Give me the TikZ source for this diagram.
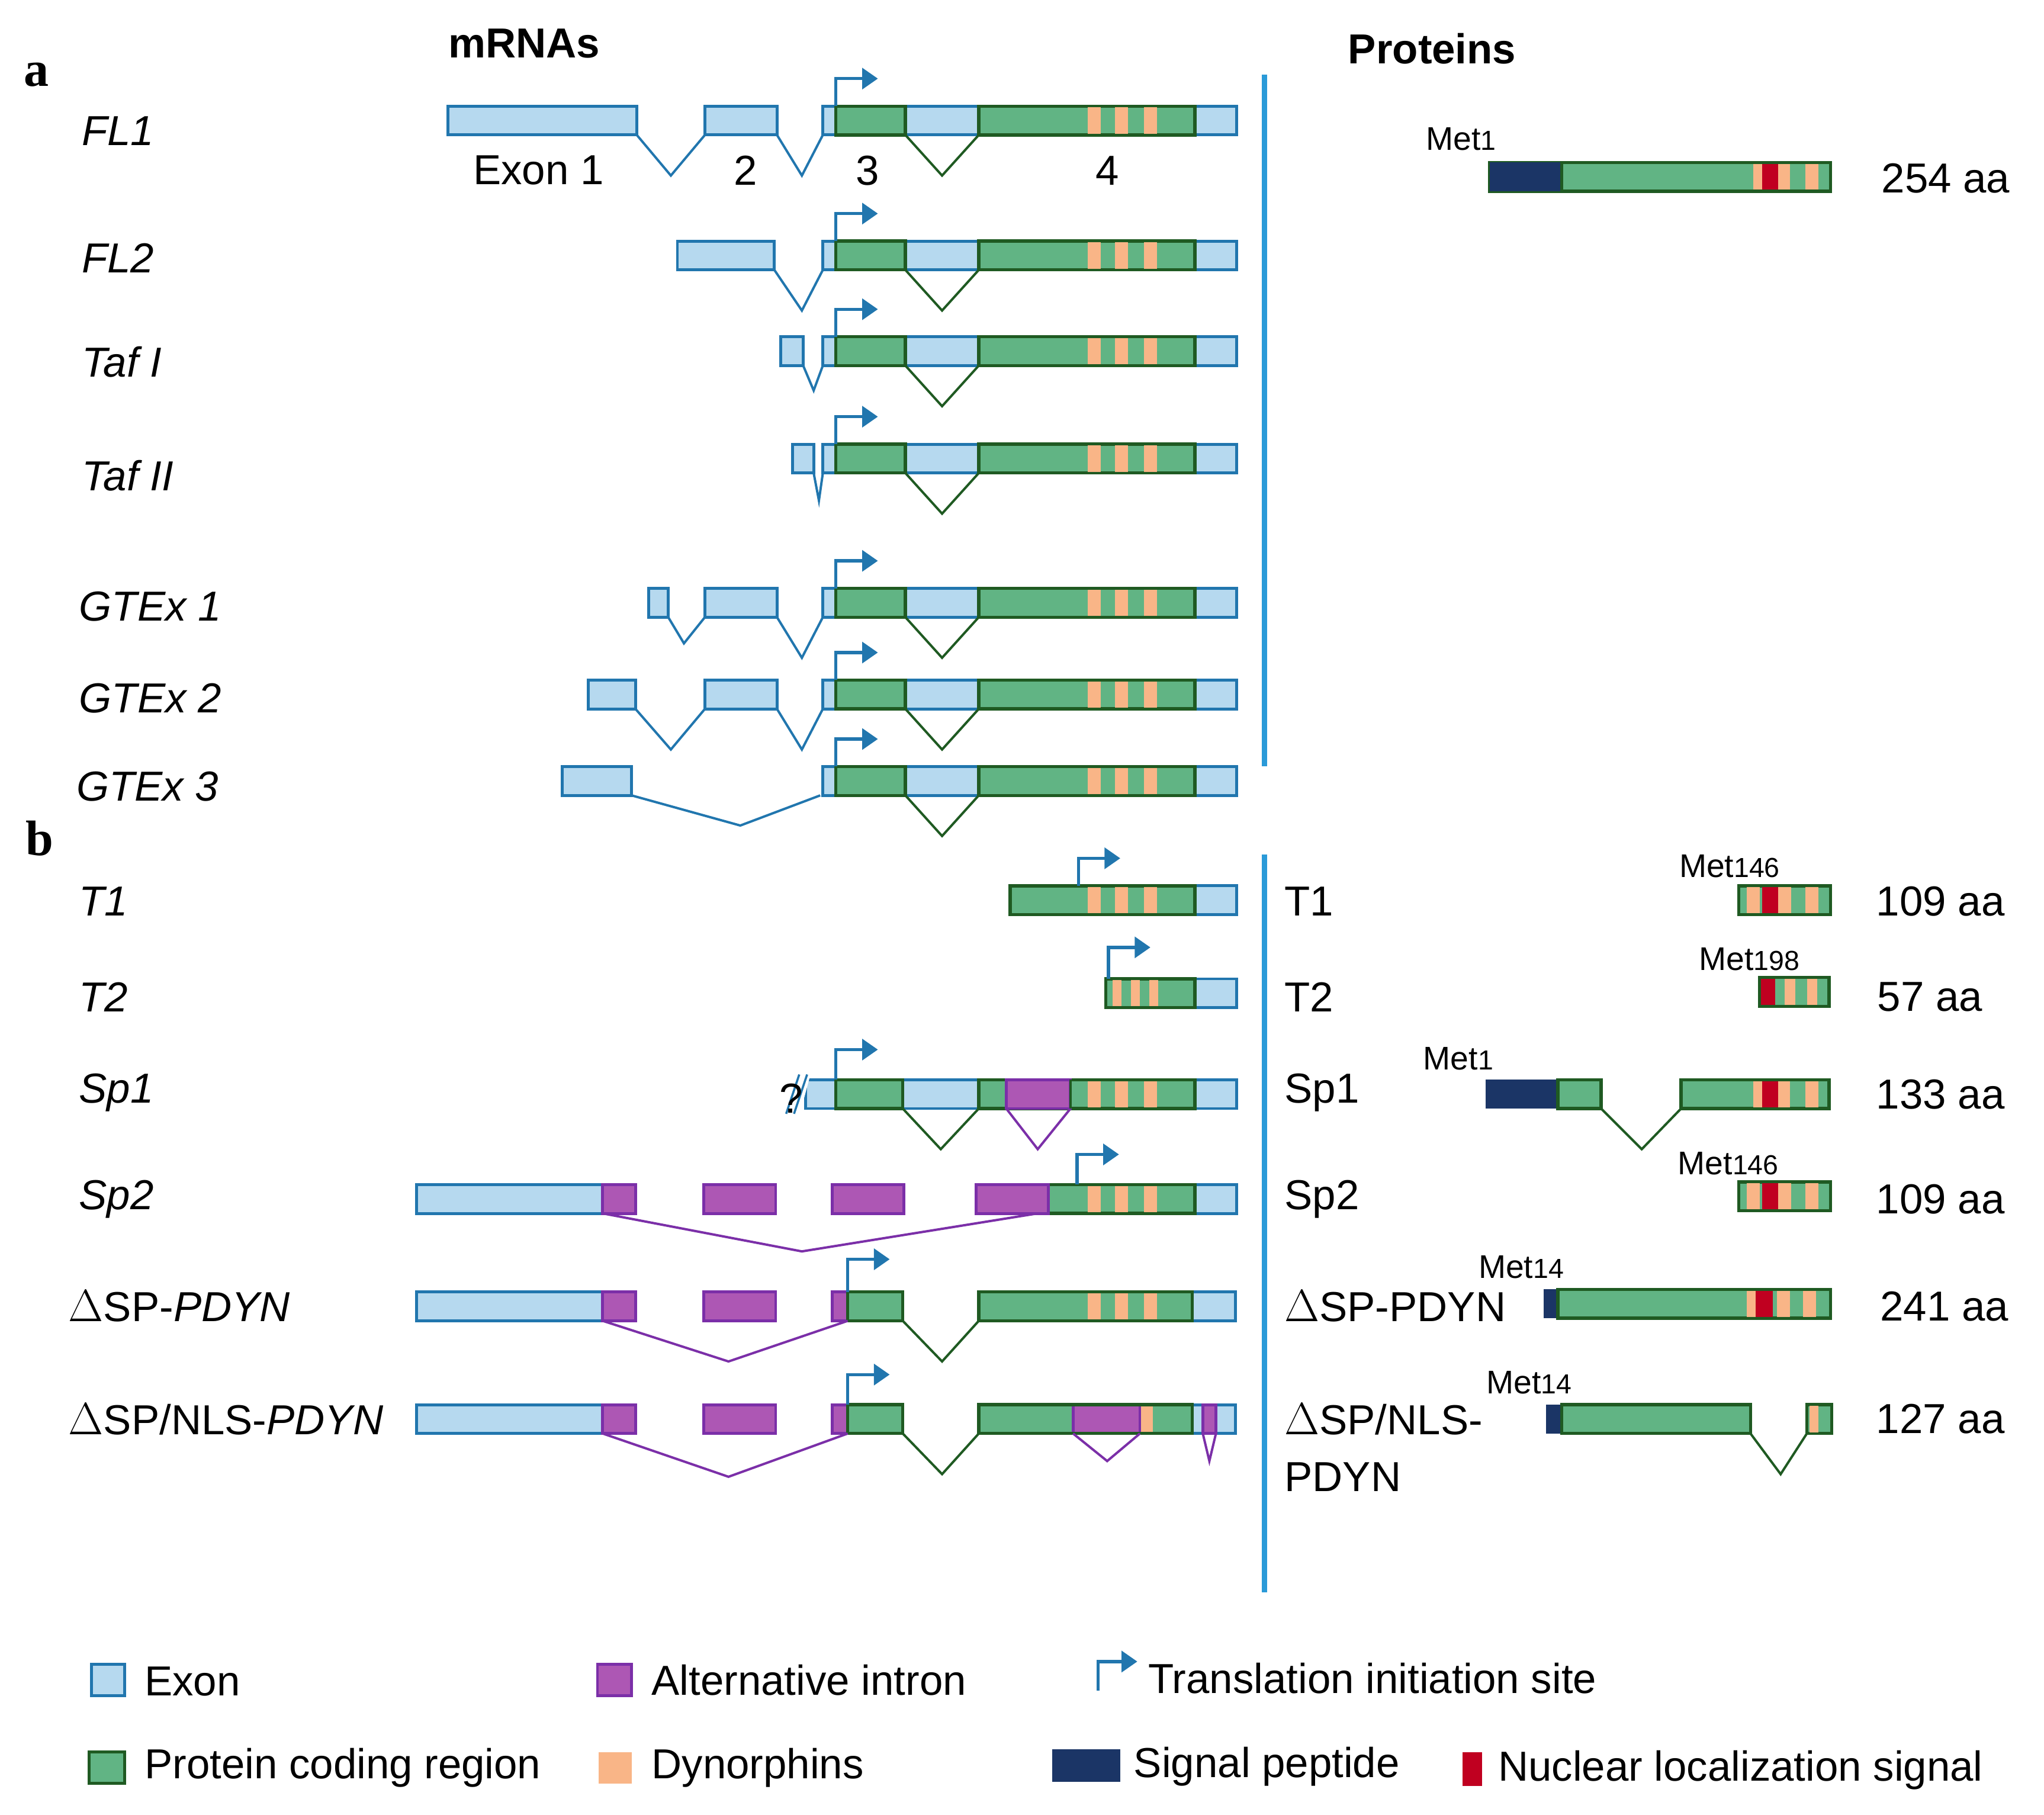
\documentclass[tikz,border=0pt]{standalone}
\usepackage{fontspec}
\setmainfont{Liberation Sans}
\newfontfamily\serifb{Liberation Serif}
\usetikzlibrary{arrows.meta}
\definecolor{lb}{HTML}{B6D9EF}
\definecolor{bb}{HTML}{2176AE}
\definecolor{gf}{HTML}{61B484}
\definecolor{gb}{HTML}{1F5A22}
\definecolor{org}{HTML}{F9B587}
\definecolor{pf}{HTML}{AD57B4}
\definecolor{pb}{HTML}{7B2FA8}
\definecolor{nv}{HTML}{1B3566}
\definecolor{rd}{HTML}{C00020}
\definecolor{vl}{HTML}{2A9AD8}
\tikzset{
 bexs/.style={fill=lb,draw=bb,line width=1.1pt},
 gexs/.style={fill=gf,draw=gb,line width=1.2pt},
 pexs/.style={fill=pf,draw=pb,line width=1.1pt},
 bint/.style={draw=bb,line width=0.9pt},
 gint/.style={draw=gb,line width=0.9pt},
 pint/.style={draw=pb,line width=0.9pt},
 tss/.style={draw=bb,line width=1.2pt,-{Triangle[length=6pt,width=8pt]}},
 lab/.style={font=\fontsize{16}{19}\selectfont,inner sep=0pt},
 ilab/.style={font=\fontsize{16}{19}\selectfont\itshape,anchor=west,inner sep=0pt},
 met/.style={font=\fontsize{12.5}{14}\selectfont,inner sep=0pt},
 hdr/.style={font=\fontsize{16}{19}\selectfont\bfseries,inner sep=0pt},
 pan/.style={font=\fontsize{19}{22}\selectfont\serifb\bfseries,inner sep=0pt}
}
\newcommand{\bex}[3]{\draw[bexs] (#1,{#3-11}) rectangle (#2,{#3+11});}
\newcommand{\gex}[3]{\draw[gexs] (#1,{#3-11}) rectangle (#2,{#3+11});}
\newcommand{\pex}[3]{\draw[pexs] (#1,{#3-11}) rectangle (#2,{#3+11});}
\newcommand{\fillr}[4]{\fill[#4] (#1,{#3-10}) rectangle (#2,{#3+10});}
\newcommand{\dyns}[1]{\fillr{830}{840}{#1}{org}\fillr{851}{861}{#1}{org}\fillr{873}{883}{#1}{org}}
\newcommand{\intr}[5]{\draw[#5] (#1,{#4+11}) -- (#2,{#4+42}) -- (#3,{#4+11});}
\newcommand{\tssa}[3]{\draw[tss] (#1,{#2-11}) |- ({#1+32},#3);}
% standard exons 3-4
\newcommand{\tail}[1]{\bex{628}{944}{#1}\gex{638}{691}{#1}\intr{691}{719}{747}{#1}{gint}\gex{747}{912}{#1}\dyns{#1}\tssa{638}{#1}{{#1-32}}}
\newcommand{\mcm}[1]{Met{\fontsize{10.5}{12}\selectfont #1}}
\begin{document}
\begin{tikzpicture}[x=0.5pt,y=-0.5pt]
\useasboundingbox (0,0) rectangle (1560,1385);
% headers
\node[hdr] at (400,33) {mRNAs};
\node[hdr] at (1093,37) {Proteins};
\node[pan] at (28,57) {a};
\node[pan] at (30,640) {b};
\draw[vl,line width=2pt] (965,57) -- (965,585);
\draw[vl,line width=2pt] (965,652) -- (965,1215);
% FL1
\bex{342}{486}{92}\intr{486}{512}{538}{92}{bint}\bex{538}{593}{92}\intr{593}{612}{628}{92}{bint}\tail{92}
\node[lab] at (411,130) {Exon 1};\node[lab] at (569,130) {2};\node[lab] at (662,130) {3};\node[lab] at (845,130) {4};
% FL2
\bex{517}{591}{195}\intr{591}{612}{628}{195}{bint}\tail{195}
% Taf I
\bex{596}{613}{268}\draw[bint] (613,279) -- (621,298) -- (628,279);\tail{268}
% Taf II
\bex{605}{621}{350}\draw[bint] (621,361) -- (625,382) -- (628,361);\tail{350}
% GTEx1
\bex{495}{510}{460}\draw[bint] (510,471) -- (522,491) -- (538,471);\bex{538}{593}{460}\intr{593}{612}{628}{460}{bint}\tail{460}
% GTEx2
\bex{449}{485}{530}\intr{485}{512}{538}{530}{bint}\bex{538}{593}{530}\intr{593}{612}{628}{530}{bint}\tail{530}
% GTEx3
\bex{429}{482}{596}\draw[bint] (482,607) -- (565,630) -- (626,607);\tail{596}
% left labels a
\node[ilab] at (62,100) {FL1};
\node[ilab] at (62,197) {FL2};
\node[ilab] at (62,276) {Taf I};
\node[ilab] at (62,363) {Taf II};
\node[ilab] at (60,463) {GTEx 1};
\node[ilab] at (60,533) {GTEx 2};
\node[ilab] at (58,600) {GTEx 3};
% protein FL1
\gex{1137}{1397}{135}\fill[nv] (1137,124) rectangle (1192,146);
\fillr{1338}{1345}{135}{org}\fillr{1345}{1357}{135}{rd}\fillr{1357}{1366}{135}{org}\fillr{1378}{1388}{135}{org}
\draw[gb,line width=1.2pt] (1192,124) rectangle (1397,146);
\node[met] at (1115,106) {\mcm{1}};
\node[lab] at (1485,136) {254 aa};
% ---- panel b mRNAs
% T1
\bex{771}{944}{687}\gex{771}{912}{687}\dyns{687}\tssa{823}{687}{655}
% T2
\bex{844}{944}{758}\gex{844}{912}{758}\fillr{849}{856}{758}{org}\fillr{863}{870}{758}{org}\fillr{877}{884}{758}{org}\tssa{846}{758}{723}
% Sp1
\bex{615}{944}{835}\fill[white] (603,822) -- (618,822) -- (611,848) -- (596,848) -- cycle;
\draw[bb,line width=0.8pt] (610,820) -- (600,850) (616,820) -- (606,850);
\node[lab] at (604,838) {?};
\gex{638}{689}{835}\intr{689}{718}{747}{835}{gint}\gex{747}{912}{835}\dyns{835}
\pex{768}{817}{835}\intr{768}{792}{817}{835}{pint}\draw[gint] (817,824)--(817,846);
\tssa{638}{835}{801}
% Sp2
\bex{318}{460}{915}\pex{460}{485}{915}\pex{537}{592}{915}\pex{635}{690}{915}
\bex{800}{944}{915}\gex{800}{912}{915}\dyns{915}\pex{745}{800}{915}
\draw[pint] (460,926) -- (612,955) -- (792,926);
\tssa{822}{915}{881}
% dSP-PDYN
\bex{318}{460}{997}\pex{460}{485}{997}\pex{537}{592}{997}\pex{635}{647}{997}
\bex{747}{943}{997}\gex{647}{689}{997}\intr{689}{719}{747}{997}{gint}\gex{747}{910}{997}\dyns{997}
\draw[pint] (460,1008) -- (556,1039) -- (647,1008);
\tssa{647}{997}{961}
% dSP/NLS-PDYN
\bex{318}{460}{1083}\pex{460}{485}{1083}\pex{537}{592}{1083}\pex{635}{647}{1083}
\bex{747}{943}{1083}\gex{647}{689}{1083}\intr{689}{719}{747}{1083}{gint}\gex{747}{910}{1083}
\pex{819}{870}{1083}\fillr{871}{880}{1083}{org}\draw[gb,line width=1.2pt] (747,1072) -- (910,1072) (747,1094)--(910,1094);
\pex{918}{928}{1083}
\draw[pint] (819,1094) -- (845,1115) -- (870,1094);
\draw[pint] (918,1094) -- (923,1115) -- (928,1094);
\draw[pint] (460,1094) -- (556,1127) -- (647,1094);
\tssa{647}{1083}{1049}
% left labels b
\node[ilab] at (60,688) {T1};
\node[ilab] at (60,761) {T2};
\node[ilab] at (60,834) {Sp1};
\node[ilab] at (60,915) {Sp2};
\node[ilab] at (52,997) {$\Delta$\upshape SP-\itshape PDYN};
\node[ilab] at (52,1083) {$\Delta$\upshape SP/NLS-\itshape PDYN};
% right labels b
\node[lab,anchor=west] at (980,688) {T1};
\node[lab,anchor=west] at (980,761) {T2};
\node[lab,anchor=west] at (980,834) {Sp1};
\node[lab,anchor=west] at (980,915) {Sp2};
\node[lab,anchor=west] at (980,997) {$\Delta$SP-PDYN};
\node[lab,anchor=west] at (980,1083) {$\Delta$SP/NLS-};
\node[lab,anchor=west] at (980,1127) {PDYN};
% proteins b
\gex{1327}{1397}{687}\fillr{1333}{1343}{687}{org}\fillr{1345}{1357}{687}{rd}\fillr{1357}{1367}{687}{org}\fillr{1378}{1388}{687}{org}
\node[met] at (1320,661) {\mcm{146}};\node[lab] at (1481,688) {109 aa};
\gex{1343}{1396}{757}\fillr{1344}{1355}{757}{rd}\fillr{1362}{1370}{757}{org}\fillr{1379}{1387}{757}{org}
\node[met] at (1335,732) {\mcm{198}};\node[lab] at (1473,761) {57 aa};
\fill[nv] (1134,824) rectangle (1189,846);\gex{1189}{1222}{835}\intr{1222}{1253}{1283}{835}{gint}
\gex{1283}{1396}{835}\fillr{1338}{1345}{835}{org}\fillr{1345}{1357}{835}{rd}\fillr{1357}{1366}{835}{org}\fillr{1378}{1388}{835}{org}
\node[met] at (1113,808) {\mcm{1}};\node[lab] at (1481,835) {133 aa};
\gex{1327}{1397}{913}\fillr{1333}{1343}{913}{org}\fillr{1345}{1357}{913}{rd}\fillr{1357}{1367}{913}{org}\fillr{1378}{1388}{913}{org}
\node[met] at (1319,888) {\mcm{146}};\node[lab] at (1481,915) {109 aa};
\fill[nv] (1178,984) rectangle (1189,1006);\gex{1189}{1397}{995}
\fillr{1333}{1340}{995}{org}\fillr{1340}{1353}{995}{rd}\fillr{1356}{1366}{995}{org}\fillr{1376}{1386}{995}{org}
\node[met] at (1161,967) {\mcm{14}};\node[lab] at (1484,997) {241 aa};
\fill[nv] (1180,1072) rectangle (1192,1094);\gex{1192}{1336}{1083}\intr{1336}{1359}{1379}{1083}{gint}
\gex{1379}{1398}{1083}\fillr{1381}{1388}{1083}{org}
\node[met] at (1167,1055) {\mcm{14}};\node[lab] at (1481,1083) {127 aa};
% legend
\draw[bexs] (70,1270) rectangle (95,1294);\node[lab,anchor=west] at (110,1283) {Exon};
\draw[pexs] (456,1270) rectangle (482,1294);\node[lab,anchor=west] at (497,1282) {Alternative intron};
\draw[tss] (838,1290) |- (868,1268);\node[lab,anchor=west] at (876,1281) {Translation initiation site};
\draw[gexs] (68,1337) rectangle (95,1361);\node[lab,anchor=west] at (110,1349) {Protein coding region};
\fill[org] (457,1337) rectangle (482,1361);\node[lab,anchor=west] at (497,1349) {Dynorphins};
\fill[nv] (803,1335) rectangle (855,1360);\node[lab,anchor=west] at (865,1348) {Signal peptide};
\fill[rd] (1116,1337) rectangle (1131,1363);\node[lab,anchor=west] at (1143,1351) {Nuclear localization signal};
\end{tikzpicture}
\end{document}
